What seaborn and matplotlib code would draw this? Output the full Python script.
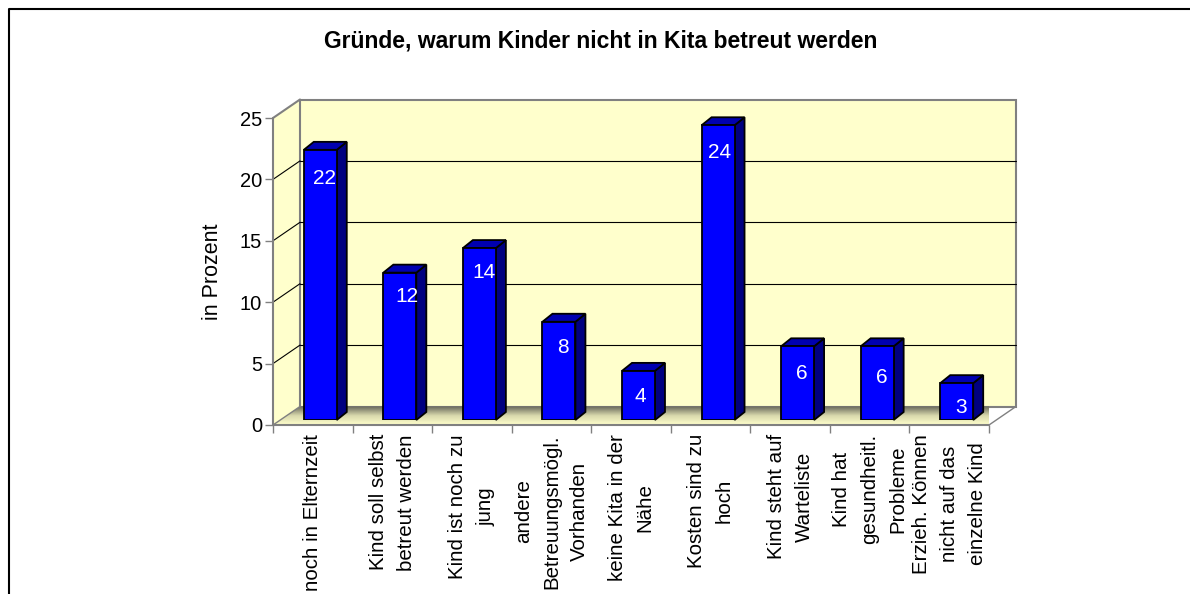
import matplotlib
matplotlib.use('Agg')

import numpy as np
import pandas as pd
import matplotlib.pyplot as plt
import seaborn as sns
from matplotlib.colors import LinearSegmentedColormap
from matplotlib.patches import Polygon, Rectangle
from matplotlib.transforms import ScaledTranslation

# -------------------------------
# Data
# -------------------------------
title = "Gründe, warum Kinder nicht in Kita betreut werden"
ylabel = "in Prozent"
categories = [
    "noch in Elternzeit",
    "Kind soll selbst\nbetreut werden",
    "Kind ist noch zu\njung",
    "andere\nBetreuungsmögl.\nVorhanden",
    "keine Kita in der\nNähe",
    "Kosten sind zu\nhoch",
    "Kind steht auf\nWarteliste",
    "Kind hat\ngesundheitl.\nProbleme",
    "Erzieh. Können\nnicht auf das\neinzelne Kind",
]
values = [22, 12, 14, 8, 4, 24, 6, 6, 3]
y_ticks = [0, 5, 10, 15, 20, 25]

# value labels sit a bit unevenly in the original (pixels from bar centre / bar top)
label_dx = [4.5, 7, 5, 4, 2, 2, 4.5, 5, 4]
label_dy = [29, 24, 24, 26, 26, 27, 27, 31, 24]

W, H = 1190, 594
DPI = 100
WALL = "#FFFFCC"
GREY = "#808080"

sns.set_theme(style="white")
plt.rcParams['font.family'] = ['Liberation Sans', 'DejaVu Sans']


def box(x0, y_top, x1, y_bottom):
    # pixel box (measured from the top left) -> figure fractions
    return [x0 / W, 1 - y_bottom / H, (x1 - x0) / W, (y_bottom - y_top) / H]


fig = plt.figure(figsize=(W / DPI, H / DPI), dpi=DPI, facecolor="white")

# outer frame, only left and top edge are inside the picture
fig.add_artist(plt.Line2D([8.5 / W, 8.5 / W, 1], [0, 1 - 9 / H, 1 - 9 / H],
                          color="black", lw=1.5, transform=fig.transFigure))

# -------------------------------
# Axes in the front plane of the 3D box
# -------------------------------
ax = fig.add_axes(box(273, 118, 989, 425))
ax.set_xlim(-0.5, len(values) - 0.5)
ax.set_ylim(0, 25)
ax.patch.set_alpha(0)
for s in ax.spines.values():
    s.set_visible(False)

back = ax.transData + ScaledTranslation(27 / DPI, 18.5 / DPI, fig.dpi_scale_trans)
x0, x1 = ax.get_xlim()
ox = 27 / 79.6
oy = 18.5 / 12.28

# side wall, back wall
ax.add_patch(Polygon([(x0, 0), (x0, 25), (x0 + ox, 25 + oy), (x0 + ox, oy)],
                     closed=True, fc=WALL, ec="none", clip_on=False, zorder=0))
ax.add_patch(Rectangle((x0, 0), x1 - x0, 25, fc=WALL, ec=GREY, lw=1.5, transform=back, clip_on=False, zorder=0.5))

# floor with its shaded gradient
floor = Polygon([(x0, 0), (x1, 0), (x1 + ox, oy), (x0 + ox, oy)], closed=True, fc="none", ec="none")
ax.add_patch(floor)
cmap = LinearSegmentedColormap.from_list("floor", ["#FFFFCC", "#D8D8AC", "#66665A"])
im = ax.imshow(np.linspace(0, 1, 64).reshape(-1, 1), cmap=cmap, origin="lower", aspect="auto", zorder=0.6,
               extent=(x0, x1 + ox, 0, oy))
im.set_clip_path(floor)
ax.set_xlim(x0, x1)
ax.set_ylim(0, 25)

# grid lines on the wall and the diagonals on the side wall
for t in y_ticks[1:-1]:
    ax.plot([x0, x1], [t, t], color="black", lw=0.8, transform=back, clip_on=False, zorder=0.7)
    ax.plot([x0, x0 + ox], [t, t + oy], color="black", lw=0.8, clip_on=False, zorder=0.7)
ax.plot([x0, x0 + ox], [0, oy], color=GREY, lw=1, clip_on=False, zorder=0.7)
ax.plot([x0, x0 + ox], [25, 25 + oy], color=GREY, lw=1.5, clip_on=False, zorder=0.7)
ax.plot([x1, x1 + ox], [0, oy], color=GREY, lw=1, clip_on=False, zorder=0.7)

# front axis lines and ticks
ax.plot([x0, x0], [0, 25], color=GREY, lw=1.5, clip_on=False, zorder=0.8)
ax.plot([x0, x1], [0, 0], color=GREY, lw=1.5, clip_on=False, zorder=0.8)
ax.set_yticks(y_ticks)
ax.set_yticklabels([str(t) for t in y_ticks], fontsize=14.5, color="black")
ax.tick_params(axis="y", length=6, width=1, color=GREY, left=True, pad=2)
ax.set_ylabel(ylabel, fontsize=15.5, color="black", labelpad=12)

ax.set_xticks(np.arange(len(values) + 1) - 0.5, minor=True)
ax.tick_params(axis="x", which="minor", length=6, width=1, color=GREY, bottom=True)
ax.set_xticks(np.arange(len(values)))
ax.set_xticklabels(categories, rotation=90, fontsize=14.8, color="black", va="top", ha="center",
                   multialignment="center", linespacing=1.59)
ax.tick_params(axis="x", which="major", length=0, pad=6.5)

fig.text(601 / W, 1 - 41 / H, title, ha="center", va="center", fontsize=16.5, fontweight="bold", color="black")

# -------------------------------
# Bars, on their own axes half way into the box
# -------------------------------
bar_ax = fig.add_axes(box(280.5, 113, 996.5, 420))
bar_ax.patch.set_alpha(0)
df = pd.DataFrame({"grund": categories, "wert": values})
sns.barplot(data=df, x="grund", y="wert", color="#0000FF", saturation=1, width=33 / 79.6,
            edgecolor="black", linewidth=1.3, ax=bar_ax, zorder=3)
bar_ax.set_xlim(-0.5, len(values) - 0.5)
bar_ax.set_ylim(0, 25)
bar_ax.axis("off")

dx = 10 / 79.6
dy = 8 / 12.28
for bar, v, lx, ly in zip(list(bar_ax.patches), values, label_dx, label_dy):
    left = bar.get_x()
    right = left + bar.get_width()
    bar_ax.add_patch(Polygon([(right, 0), (right + dx, dy), (right + dx, v + dy), (right, v)], closed=True,
                             fc="#000080", ec="black", lw=1.3, clip_on=False, zorder=2))
    bar_ax.add_patch(Polygon([(left, v), (left + dx, v + dy), (right + dx, v + dy), (right, v)], closed=True,
                             fc="#0000B0", ec="black", lw=1.3, clip_on=False, zorder=2))
    bar_ax.annotate(str(v), ((left + right) / 2, v), xytext=(lx * 0.72, -ly * 0.72), textcoords="offset points",
                    ha="center", va="center", color="white", fontsize=15, zorder=4)

fig.savefig("out.png", dpi=DPI)
